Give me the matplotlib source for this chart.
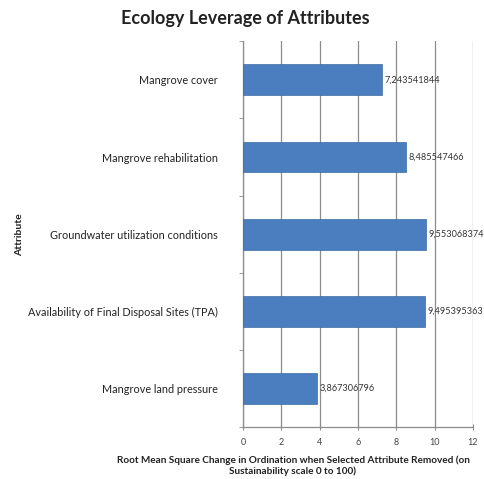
import numpy as np
import matplotlib.pyplot as plt

# Leverage analysis results (RMS change when attribute removed)
attributes = [
    "Mangrove land pressure",
    "Availability of Final Disposal Sites (TPA)",
    "Groundwater utilization conditions",
    "Mangrove rehabilitation",
    "Mangrove cover",
]
rms_change = [3.867306796, 9.495395363, 9.553068374, 8.485547466, 7.243541844]
x_ticks = [0, 2, 4, 6, 8, 10, 12]

BAR_COLOR = "#4A7EBE"
GRID_COLOR = "#8C8C8C"

plt.rcParams["font.family"] = ["Lato", "DejaVu Sans"]

fig = plt.figure(figsize=(4.85, 4.79), dpi=100)
ax = fig.add_axes([0.501, 0.108, 0.474, 0.806])

y = np.arange(len(attributes))
ax.barh(y, rms_change, height=0.4, color=BAR_COLOR, edgecolor="#3B6BA5",
        linewidth=0.5, zorder=3)

for yi, v in zip(y, rms_change):
    label = f"{v:.9f}".replace(".", ",")
    ax.text(v + 0.15, yi, label, va="center", ha="left", fontsize=6.6,
            color="#333333", zorder=4, clip_on=False)

ax.set_xlim(0, 12)
ax.set_ylim(-0.5, len(attributes) - 0.5)
ax.set_xticks(x_ticks)
ax.set_xticklabels([str(t) for t in x_ticks], fontsize=6.5, color="#444444")
ax.set_yticks(y)
ax.set_yticklabels(attributes, fontsize=7.8, color="#222222")
ax.set_yticks(np.arange(-0.5, len(attributes), 1.0), minor=True)

ax.grid(axis="x", color=GRID_COLOR, linewidth=0.9, zorder=0)
ax.tick_params(axis="y", which="major", length=0, pad=18)
ax.tick_params(axis="y", which="minor", length=3, color=GRID_COLOR)
ax.tick_params(axis="x", length=4, color=GRID_COLOR, direction="inout", pad=6)

for side in ["top", "right"]:
    ax.spines[side].set_visible(False)
for side in ["left", "bottom"]:
    ax.spines[side].set_color(GRID_COLOR)
    ax.spines[side].set_linewidth(0.9)

fig.text(0.505, 0.962, "Ecology Leverage of Attributes", fontsize=13,
         fontweight="bold", color="#222222", ha="center", va="center")
fig.text(0.604, 0.028, "Root Mean Square Change in Ordination when Selected Attribute Removed (on\n"
         "Sustainability scale 0 to 100)", fontsize=7.2, fontweight="bold",
         color="#222222", ha="center", va="center", multialignment="center",
         linespacing=1.25)
fig.text(0.04, 0.51, "Attribute", rotation=90, fontsize=7.5, fontweight="bold",
         color="#222222", ha="center", va="center")

fig.savefig("out.png", dpi=100, facecolor="white")
